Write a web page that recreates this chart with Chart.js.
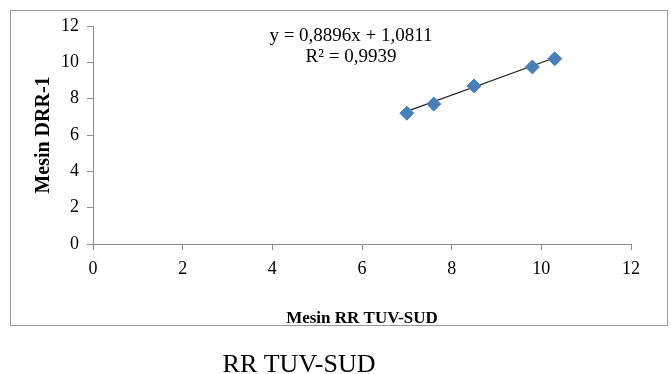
<!DOCTYPE html>
<html>
<head>
<meta charset="utf-8">
<script src="https://cdn.jsdelivr.net/npm/chart.js@4.4.1/dist/chart.umd.min.js"></script>
<style>
  html, body { margin: 0; padding: 0; background: #fff; }
  #wrap { width: 671px; height: 374px; position: relative; }
</style>
</head>
<body>
<div id="wrap"><canvas id="chart" width="671" height="374"></canvas></div>
<script>
// datos
const xTuv = [7.0, 7.6, 8.5, 9.8, 10.3];
const yDrr = [7.2, 7.7, 8.7, 9.75, 10.2];
const trendX = [7.0, 10.3];
const trendY = [7.3, 10.25];
const tickValues = [0, 2, 4, 6, 8, 10, 12];
const equationLines = ['y = 0,8896x + 1,0811', 'R² = 0,9939'];
const xTitle = 'Mesin RR TUV-SUD';
const yTitle = 'Mesin DRR-1';
const caption = 'RR TUV-SUD';

const serif = '"Liberation Serif", "DejaVu Serif", serif';
const axisGray = '#8c8c8c';

// Caja exterior, ecuacion y pie de figura
const extrasPlugin = {
    id: 'extras',
    afterDraw(chart) {
        const ctx = chart.ctx;
        ctx.save();
        ctx.strokeStyle = '#9a9a9a';
        ctx.lineWidth = 1;
        ctx.strokeRect(10.5, 10.5, 657, 315);

        ctx.fillStyle = '#000';
        ctx.textAlign = 'center';
        ctx.textBaseline = 'middle';
        ctx.font = '19px ' + serif;
        ctx.fillText(equationLines[0], 351, 36);
        ctx.fillText(equationLines[1], 351, 57);

        ctx.font = '26px ' + serif;
        ctx.fillText(caption, 299, 365);
        ctx.restore();
    }
};

new Chart(document.getElementById('chart').getContext('2d'), {
    type: 'scatter',
    data: {
        datasets: [
            {
                label: 'Trend',
                type: 'line',
                data: trendX.map((x, i) => ({ x, y: trendY[i] })),
                borderColor: '#222',
                borderWidth: 1.2,
                pointRadius: 0,
                fill: false,
                order: 2
            },
            {
                label: 'Datos',
                data: xTuv.map((x, i) => ({ x, y: yDrr[i] })),
                pointStyle: 'rectRot',
                pointRadius: 7,
                backgroundColor: '#4a7ebb',
                borderColor: '#4a7ebb',
                borderWidth: 1,
                order: 1
            }
        ]
    },
    options: {
        responsive: false,
        animation: false,
        layout: { padding: { left: 32, top: 26, right: 40, bottom: 45 } },
        plugins: {
            legend: { display: false },
            tooltip: { enabled: false }
        },
        scales: {
            x: {
                type: 'linear',
                min: 0, max: 12,
                afterBuildTicks: s => { s.ticks = tickValues.map(v => ({ value: v })); },
                afterFit: s => { s.height = 85; },
                grid: { drawOnChartArea: false, drawTicks: true, tickLength: 6, color: axisGray },
                border: { color: axisGray, width: 1 },
                ticks: { color: '#000', font: { family: serif, size: 18 }, padding: 8 },
                title: {
                    display: true, text: xTitle, color: '#000',
                    font: { family: serif, size: 17, weight: 'bold' },
                    padding: { top: 0, bottom: 0 }
                }
            },
            y: {
                type: 'linear',
                min: 0, max: 12,
                afterBuildTicks: s => { s.ticks = tickValues.map(v => ({ value: v })); },
                afterFit: s => { s.width = 61; },
                grid: { drawOnChartArea: false, drawTicks: true, tickLength: 6, color: axisGray },
                border: { color: axisGray, width: 1 },
                ticks: { color: '#000', font: { family: serif, size: 18 }, padding: 8 },
                title: {
                    display: true, text: yTitle, color: '#000',
                    font: { family: serif, size: 20, weight: 'bold' },
                    padding: { top: 0, bottom: 0 }
                }
            }
        }
    },
    plugins: [extrasPlugin]
});
</script>
</body>
</html>
